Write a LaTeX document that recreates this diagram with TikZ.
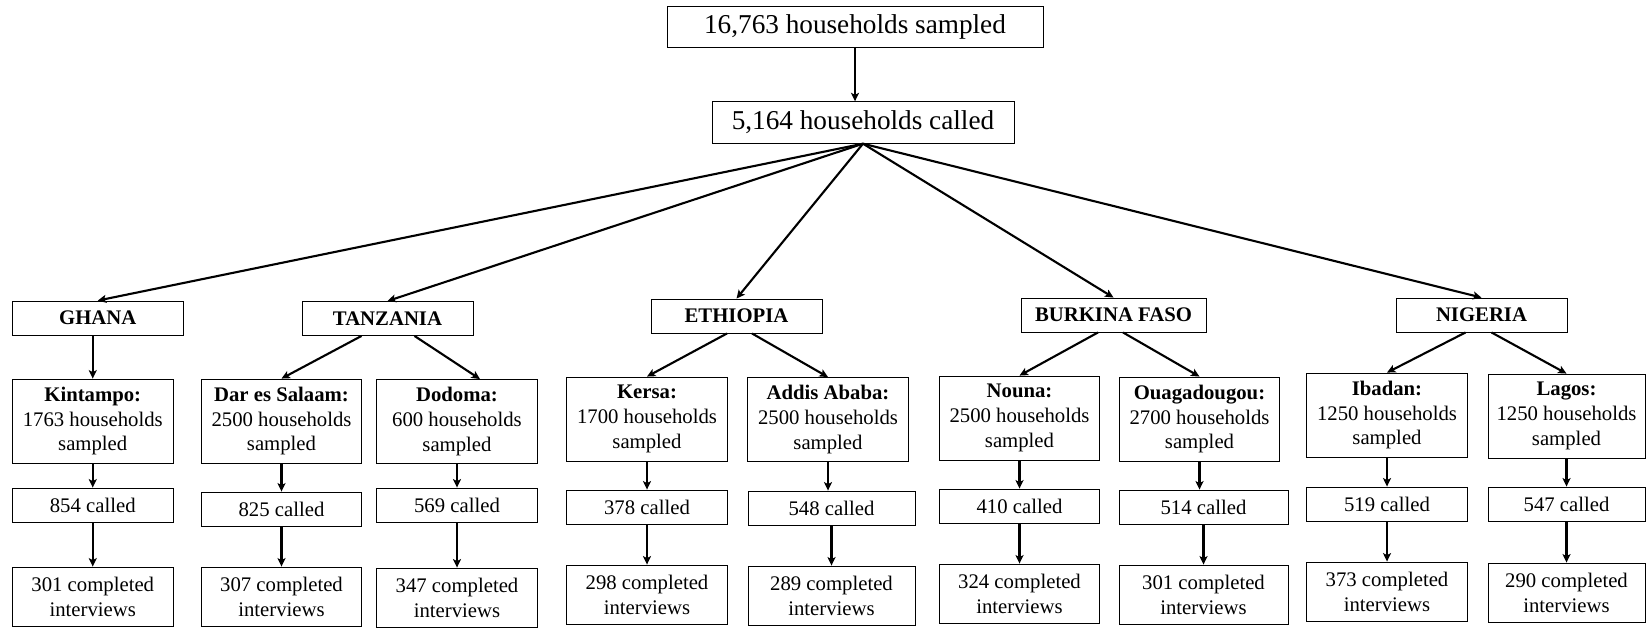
\documentclass[tikz,border=0pt]{standalone}
\usepackage{fontspec}
\setmainfont{Liberation Serif}
\usepackage{tikz}
\usetikzlibrary{arrows.meta}

\tikzset{
  box/.style={draw, line width=0.5pt, align=center, inner sep=0pt,
    minimum width=3.21cm, font=\fontsize{11.8}{14.2}\selectfont},
  bigbox/.style={box, minimum height=0.83cm, font=\fontsize{15.5}{18}\selectfont},
  country/.style={box, minimum width=3.42cm, minimum height=0.68cm,
    font=\fontsize{11.8}{14.2}\selectfont\bfseries},
  site/.style={box, minimum height=1.68cm},
  calls/.style={box, minimum height=0.68cm},
  done/.style={box, minimum height=1.18cm},
  arr/.style={line width=1.2pt, -{Stealth[length=1.7mm, width=1.6mm, inset=0.4mm]}}
}

\begin{document}
\begin{tikzpicture}[x=0.02cm, y=-0.02cm]
    \useasboundingbox (0,0) rectangle (1646,627);

    % top of the flow
    \node[bigbox, minimum width=7.52cm] (sampled) at (855,27) {16,763 households sampled};
    \node[bigbox, minimum width=6.04cm] (called) at (863,122.5) {5,164 households called};

    % countries
    \node[country] (ghana) at (97.75,318) {GHANA};
    \node[country] (tanzania) at (387.5,318.5) {TANZANIA};
    \node[country] (ethiopia) at (736.5,316) {ETHIOPIA};
    \node[country, minimum width=3.7cm] (burkina) at (1113.5,315) {BURKINA FASO};
    \node[country] (nigeria) at (1481.5,315) {NIGERIA};

    % sites
    \node[site] (kintampo) at (92.75,421) {\textbf{Kintampo:}\\1763 households\\sampled};
    \node[site] (dar) at (281.5,421) {\textbf{Dar es Salaam:}\\2500 households\\sampled};
    \node[site] (dodoma) at (457,421.5) {\textbf{Dodoma:}\\600 households\\sampled};
    \node[site] (kersa) at (647,419) {\textbf{Kersa:}\\1700 households\\sampled};
    \node[site] (addis) at (828,419.5) {\textbf{Addis Ababa:}\\2500 households\\sampled};
    \node[site] (nouna) at (1019.5,418) {\textbf{Nouna:}\\2500 households\\sampled};
    \node[site] (ouaga) at (1199.5,419) {\textbf{Ouagadougou:}\\2700 households\\sampled};
    \node[site] (ibadan) at (1387,415) {\textbf{Ibadan:}\\1250 households\\sampled};
    \node[site, minimum width=3.14cm] (lagos) at (1566.5,416) {\textbf{Lagos:}\\1250 households\\sampled};

    % called
    \node[calls] (kintampoCalled) at (92.75,505) {854 called};
    \node[calls] (darCalled) at (281.5,509) {825 called};
    \node[calls] (dodomaCalled) at (457,505) {569 called};
    \node[calls] (kersaCalled) at (647,507) {378 called};
    \node[calls, minimum width=3.34cm] (addisCalled) at (831.5,508) {548 called};
    \node[calls] (nounaCalled) at (1019.5,506) {410 called};
    \node[calls, minimum width=3.38cm] (ouagaCalled) at (1203.5,507) {514 called};
    \node[calls] (ibadanCalled) at (1387,504) {519 called};
    \node[calls, minimum width=3.14cm] (lagosCalled) at (1566.5,504) {547 called};

    % completed
    \node[done] (kintampoDone) at (92.75,596.5) {301 completed\\interviews};
    \node[done] (darDone) at (281.5,596.5) {307 completed\\interviews};
    \node[done] (dodomaDone) at (457,597.5) {347 completed\\interviews};
    \node[done] (kersaDone) at (647,594.5) {298 completed\\interviews};
    \node[done, minimum width=3.34cm] (addisDone) at (831.5,595.5) {289 completed\\interviews};
    \node[done] (nounaDone) at (1019.5,593.5) {324 completed\\interviews};
    \node[done, minimum width=3.38cm] (ouagaDone) at (1203.5,594.5) {301 completed\\interviews};
    \node[done] (ibadanDone) at (1387,591.5) {373 completed\\interviews};
    \node[done, minimum width=3.14cm] (lagosDone) at (1566.5,592.5) {290 completed\\interviews};

    \draw[arr] (sampled.south) -- (sampled.south |- called.north);
    \draw[arr] (called.south) -- (ghana.north);
    \draw[arr] (called.south) -- (tanzania.north);
    \draw[arr] (called.south) -- (ethiopia.north);
    \draw[arr] (called.south) -- (burkina.north);
    \draw[arr] (called.south) -- (nigeria.north);

    \draw[arr] (kintampo.north |- ghana.south) -- (kintampo.north);
    \draw[arr] ([xshift=-0.52cm]tanzania.south) -- (dar.north);
    \draw[arr] ([xshift=0.54cm]tanzania.south) -- ([xshift=0.46cm]dodoma.north);
    \draw[arr] ([xshift=-0.19cm]ethiopia.south) -- (kersa.north);
    \draw[arr] ([xshift=0.31cm]ethiopia.south) -- (addis.north);
    \draw[arr] ([xshift=-0.31cm]burkina.south) -- (nouna.north);
    \draw[arr] ([xshift=0.19cm]burkina.south) -- (ouaga.north);
    \draw[arr] ([xshift=-0.32cm]nigeria.south) -- (ibadan.north);
    \draw[arr] ([xshift=0.2cm]nigeria.south) -- (lagos.north);

    \draw[arr] (kintampo) -- (kintampoCalled);
    \draw[arr] (kintampoCalled) -- (kintampoDone);
    \draw[arr] (dar) -- (darCalled);
    \draw[arr] (darCalled) -- (darDone);
    \draw[arr] (dodoma) -- (dodomaCalled);
    \draw[arr] (dodomaCalled) -- (dodomaDone);
    \draw[arr] (kersa) -- (kersaCalled);
    \draw[arr] (kersaCalled) -- (kersaDone);
    \draw[arr] (addis.south) -- (addis.south |- addisCalled.north);
    \draw[arr] (addisCalled) -- (addisDone);
    \draw[arr] (nouna) -- (nounaCalled);
    \draw[arr] (nounaCalled) -- (nounaDone);
    \draw[arr] (ouaga.south) -- (ouaga.south |- ouagaCalled.north);
    \draw[arr] (ouagaCalled) -- (ouagaDone);
    \draw[arr] (ibadan) -- (ibadanCalled);
    \draw[arr] (ibadanCalled) -- (ibadanDone);
    \draw[arr] (lagos) -- (lagosCalled);
    \draw[arr] (lagosCalled) -- (lagosDone);
\end{tikzpicture}
\end{document}
